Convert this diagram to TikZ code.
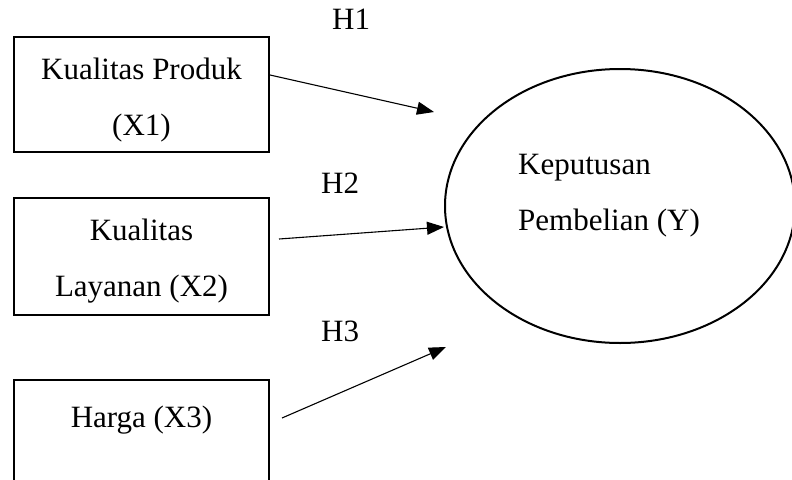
\documentclass[tikz,border=0pt]{standalone}
\usepackage{fontspec}
\setmainfont{Liberation Serif}
\usetikzlibrary{arrows.meta,shapes.geometric}
\begin{document}
\begin{tikzpicture}[x=1pt,y=-1pt,
  varbox/.style={draw,line width=2pt,rectangle,inner sep=0pt},
  txt/.style={anchor=base,inner sep=0pt,font=\fontsize{31}{36}\selectfont},
  ltxt/.style={anchor=base west,inner sep=0pt,font=\fontsize{31}{36}\selectfont},
  conn/.style={line width=1.1pt,-{Triangle[length=17pt,width=13pt]}}]
\useasboundingbox (0,0) rectangle (792,479);
\clip (0,0) rectangle (792,479);
% boxes
\node[varbox,minimum width=255pt,minimum height=115pt] (x1) at (141.5,94.5) {};
\node[varbox,minimum width=255pt,minimum height=117pt] (x2) at (141.5,256.5) {};
\node[varbox,minimum width=255pt,minimum height=130pt] (x3) at (141.5,445) {};
% ellipse
\node[draw,ellipse,line width=2pt,minimum width=350pt,minimum height=274pt,inner sep=0pt] (y) at (620,206) {};
% texts
\node[txt] (t1a) at (141.5,79) {Kualitas Produk};
\node[txt] (t1b) at (141.5,135) {(X1)};
\node[txt] (t2a) at (141.5,240) {Kualitas};
\node[txt] (t2b) at (141.5,296) {Layanan (X2)};
\node[txt] (t3a) at (141.5,427) {Harga (X3)};
\node[ltxt] (ya) at (518,174) {Keputusan};
\node[ltxt] (yb) at (518,230) {Pembelian (Y)};
\node[ltxt] (h1) at (332,29) {H1};
\node[ltxt] (h2) at (321,193) {H2};
\node[ltxt] (h3) at (321,341) {H3};
% connectors
\coordinate (s1) at (270,75);
\coordinate (e1) at (434,112);
\coordinate (s2) at (279,239);
\coordinate (e2) at (444,227);
\coordinate (s3) at (282,418);
\coordinate (e3) at (446,347);
\draw[conn] (s1) -- (e1);
\draw[conn] (s2) -- (e2);
\draw[conn] (s3) -- (e3);
\end{tikzpicture}
\end{document}
